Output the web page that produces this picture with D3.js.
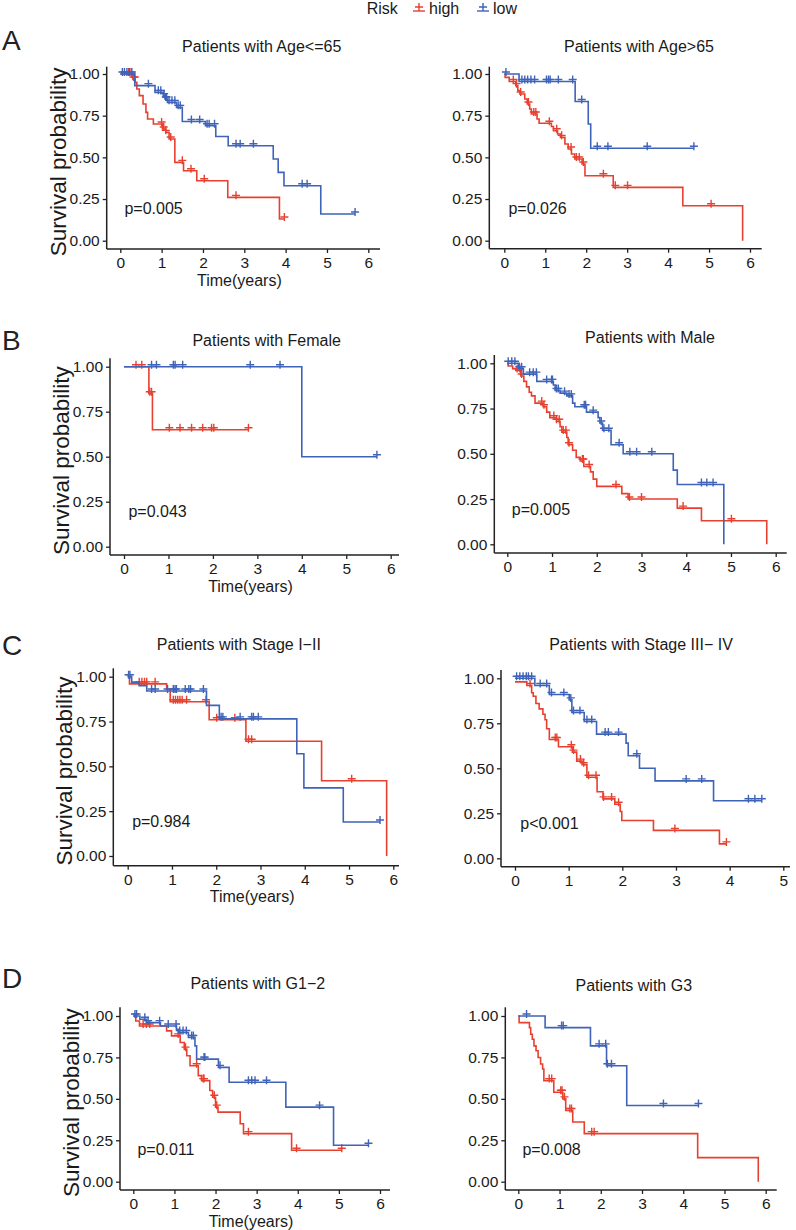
<!DOCTYPE html>
<html lang="en">
<head>
<meta charset="UTF-8">
<title>Survival by subgroup</title>
<style>
  body { margin: 0; padding: 0; background: #fff; }
  svg { display: block; font-family: "Liberation Sans", Arial, sans-serif; }
  .tick text { fill: #1a1a1a; font-size: 15.5px; }
  .tick line { stroke: #222; stroke-width: 1.3; }
</style>
</head>
<body>
<svg id="chart" width="796" height="1230"></svg>
<script src="https://cdnjs.cloudflare.com/ajax/libs/d3/7.8.5/d3.min.js"></script>
<script>
// ---- data: Kaplan-Meier steps [time, survival] and censor times ----
const groups = ['high', 'low'];
const yTicks = [0, 0.25, 0.5, 0.75, 1];
const xTicks6 = [0, 1, 2, 3, 4, 5, 6];
const xTicks5 = [0, 1, 2, 3, 4, 5];

// Age<=65
const ageLeHigh = [[0,1],[0.3,0.97],[0.36,0.95],[0.4,0.91],[0.46,0.87],[0.55,0.82],[0.62,0.77],[0.66,0.73],[0.8,0.70],[1.02,0.67],[1.1,0.65],[1.18,0.61],[1.32,0.47],[1.53,0.42],[1.85,0.36],[2.6,0.26],[3.85,0.13]];
const ageLeHighCens = [0.2,0.26,0.32,0.35,1.0,1.05,1.1,1.22,1.5,1.71,2.03,2.8,3.97];
const ageLeLow = [[0,1],[0.35,0.93],[0.84,0.89],[1.04,0.87],[1.08,0.85],[1.14,0.83],[1.36,0.80],[1.5,0.715],[2.06,0.69],[2.31,0.625],[2.61,0.57],[3.7,0.49],[3.82,0.41],[3.96,0.33],[4.85,0.16]];
const ageLeLowCens = [0.05,0.1,0.16,0.22,0.28,0.68,0.92,0.98,1.06,1.1,1.12,1.18,1.25,1.32,1.4,1.45,1.72,1.92,2.1,2.15,2.28,2.8,2.9,3.22,4.4,4.52,5.68];

// Age>65
const ageGtHigh = [[0,1],[0.02,0.98],[0.12,0.955],[0.28,0.93],[0.33,0.90],[0.38,0.88],[0.5,0.85],[0.56,0.82],[0.62,0.79],[0.66,0.76],[0.8,0.73],[0.85,0.705],[1.15,0.685],[1.2,0.66],[1.3,0.64],[1.37,0.62],[1.48,0.58],[1.56,0.55],[1.64,0.52],[1.72,0.49],[1.9,0.46],[1.97,0.39],[2.66,0.32],[4.36,0.21],[5.82,0]];
const ageGtHighCens = [0.22,0.3,0.4,0.59,0.72,0.77,1.1,1.28,1.4,1.63,1.76,1.83,1.93,2.42,2.71,3.01,5.05];
const ageGtLow = [[0,1],[0.36,0.955],[1.73,0.835],[2.05,0.70],[2.11,0.555]];
const ageGtLowCens = [0.04,0.43,0.5,0.57,0.65,0.74,1.03,1.08,1.12,1.32,1.67,1.89,2.27,2.53,3.49,4.63];

// Female
const femHigh = [[0,1],[0.56,0.85],[0.64,0.65]];
const femHighCens = [0.27,0.4,0.58,0.62,1.02,1.26,1.52,1.77,1.97,2.02,2.8];
const femLow = [[0,1],[4.0,0.5]];
const femLowCens = [0.62,0.73,1.11,1.15,1.32,2.84,3.51,5.69];

// Male
const maleHigh = [[0,1],[0.02,0.985],[0.12,0.97],[0.19,0.96],[0.3,0.93],[0.37,0.90],[0.43,0.87],[0.49,0.84],[0.54,0.82],[0.62,0.78],[0.8,0.76],[0.88,0.73],[0.95,0.70],[1.1,0.68],[1.18,0.65],[1.22,0.62],[1.33,0.59],[1.36,0.55],[1.46,0.52],[1.54,0.48],[1.63,0.46],[1.71,0.43],[1.86,0.40],[1.92,0.36],[2.0,0.32],[2.56,0.28],[2.7,0.25],[3.8,0.20],[4.34,0.13],[5.8,0]];
const maleHighCens = [0.22,0.28,0.32,0.77,0.82,1.04,1.1,1.16,1.25,1.31,1.38,1.68,1.7,1.83,2.43,2.73,3.0,3.93,5.01];
const maleLow = [[0,1],[0.25,0.97],[0.36,0.94],[0.66,0.90],[1.03,0.88],[1.07,0.85],[1.18,0.835],[1.33,0.82],[1.46,0.78],[1.51,0.76],[1.77,0.73],[2.03,0.70],[2.07,0.67],[2.13,0.63],[2.32,0.55],[2.59,0.50],[3.71,0.41],[3.8,0.33],[4.84,0]];
const maleLowCens = [0.02,0.1,0.17,0.27,0.32,0.5,0.58,0.65,0.88,0.99,1.01,1.1,1.14,1.28,1.38,1.43,1.72,1.75,1.92,2.1,2.16,2.27,2.5,2.74,2.89,3.23,4.34,4.46,4.6];

// Stage I-II
const earlyHigh = [[0,1],[0.04,0.96],[0.88,0.93],[0.96,0.86],[1.84,0.76],[2.67,0.64],[4.38,0.42],[5.85,0]];
const earlyHighCens = [0.26,0.32,0.38,0.43,0.62,1.03,1.08,1.13,1.18,1.23,1.33,1.77,2.01,2.42,2.73,2.8,5.06];
const earlyLow = [[0,1],[0.09,0.97],[0.26,0.95],[0.43,0.92],[1.78,0.84],[2.07,0.765],[3.82,0.57],[3.98,0.38],[4.87,0.19]];
const earlyLowCens = [0.02,0.05,0.54,0.62,0.9,1.03,1.07,1.1,1.3,1.38,1.42,1.71,2.11,2.15,2.54,2.8,2.84,2.95,5.7];

// Stage III-IV
const lateHigh = [[0,0.98],[0.22,0.96],[0.31,0.92],[0.34,0.90],[0.39,0.86],[0.45,0.83],[0.52,0.80],[0.56,0.77],[0.59,0.72],[0.64,0.66],[0.81,0.62],[1.07,0.59],[1.15,0.54],[1.25,0.52],[1.34,0.45],[1.53,0.37],[1.64,0.33],[1.86,0.30],[1.96,0.26],[1.99,0.21],[2.58,0.155],[3.81,0.08]];
const lateHighCens = [0.28,0.75,0.78,1.05,1.09,1.22,1.28,1.37,1.51,1.65,1.8,1.93,2.98,3.94];
const lateLow = [[0,1],[0.37,0.96],[0.64,0.91],[1.01,0.88],[1.06,0.81],[1.29,0.76],[1.52,0.69],[2.07,0.64],[2.11,0.57],[2.32,0.50],[2.61,0.43],[3.7,0.32]];
const lateLowCens = [0.03,0.09,0.15,0.21,0.25,0.31,0.47,0.59,0.68,0.91,1.04,1.09,1.21,1.34,1.43,1.68,1.74,1.93,2.27,3.19,3.48,4.35,4.47,4.6];

// G1-2
const g12High = [[0,1],[0.06,0.97],[0.15,0.94],[0.81,0.91],[0.93,0.88],[1.14,0.84],[1.24,0.80],[1.3,0.76],[1.38,0.70],[1.58,0.64],[1.66,0.61],[1.86,0.55],[1.93,0.51],[2.0,0.45],[2.06,0.42],[2.6,0.35],[2.68,0.29],[3.85,0.19]];
const g12HighCens = [0.24,0.32,0.4,1.09,1.27,1.54,1.7,1.72,1.97,2.03,2.8,3.97,5.07];
const g12Low = [[0,1],[0.16,0.98],[0.32,0.96],[0.66,0.94],[1.05,0.92],[1.1,0.90],[1.34,0.87],[1.5,0.82],[1.54,0.74],[2.07,0.69],[2.33,0.60],[3.71,0.45],[4.87,0.22]];
const g12LowCens = [0.04,0.08,0.28,0.36,0.64,0.85,1.04,1.13,1.21,1.29,1.42,1.46,1.72,1.74,2.11,2.8,2.88,2.96,3.24,4.53,5.72];

// G3
const g3High = [[0,1],[0.02,0.96],[0.27,0.93],[0.3,0.89],[0.34,0.86],[0.38,0.82],[0.43,0.79],[0.48,0.75],[0.54,0.71],[0.59,0.68],[0.62,0.61],[0.86,0.54],[1.08,0.50],[1.15,0.43],[1.32,0.36],[1.6,0.29],[4.35,0.145],[5.82,0]];
const g3HighCens = [0.75,0.81,1.03,1.06,1.12,1.25,1.29,1.78,1.84];
const g3Low = [[0,1],[0.65,0.93],[1.75,0.82],[2.14,0.70],[2.63,0.46]];
const g3LowCens = [0.2,1.05,1.09,1.96,2.12,2.16,2.26,3.52,4.37];

const titles = ['Patients with Age<=65', 'Patients with Age>65', 'Patients with Female', 'Patients with Male',
                'Patients with Stage I\u2212II', 'Patients with Stage III\u2212 IV', 'Patients with G1\u22122', 'Patients with G3'];
const pvals = ['p=0.005', 'p=0.026', 'p=0.043', 'p=0.005', 'p=0.984', 'p<0.001', 'p=0.011', 'p=0.008'];

// ---- layout ----
const colors = { high: '#E8402F', low: '#3F63B8' };
const textColor = '#1a1a1a';

// px geometry of each panel (x0/x1 map 0 and the last x tick)
const panels = [
  { title: 0, curves: [ageLeHigh, ageLeLow], cens: [ageLeHighCens, ageLeLowCens], ticks: xTicks6,
    x0: 120.3, x1: 368.3, y0: 240.7, y1: 74, axisY: 249, axisX: 106.7, xEnd: 380, yTop: 66.7, tx: 261.7, ty: 46, left: true, letter: 'A', ly: 50 },
  { title: 1, curves: [ageGtHigh, ageGtLow], cens: [ageGtHighCens, ageGtLowCens], ticks: xTicks6,
    x0: 504.3, x1: 750, y0: 240.7, y1: 74, axisY: 248.7, axisX: 489.3, xEnd: 761.7, yTop: 66.7, tx: 639, ty: 46 },
  { title: 2, curves: [femHigh, femLow], cens: [femHighCens, femLowCens], ticks: xTicks6,
    x0: 124, x1: 390.7, y0: 546.7, y1: 366.7, axisY: 555, axisX: 110, xEnd: 399, yTop: 358.3, tx: 266.7, ty: 340.7, left: true, letter: 'B', ly: 350 },
  { title: 3, curves: [maleHigh, maleLow], cens: [maleHighCens, maleLowCens], ticks: xTicks6,
    x0: 507.3, x1: 775.7, y0: 544.3, y1: 363.3, axisY: 553, axisX: 494.3, xEnd: 786.7, yTop: 355, tx: 650, ty: 337.7 },
  { title: 4, curves: [earlyHigh, earlyLow], cens: [earlyHighCens, earlyLowCens], ticks: xTicks6,
    x0: 127.7, x1: 393.3, y0: 856, y1: 676.7, axisY: 865.7, axisX: 113.3, xEnd: 399, yTop: 668.3, tx: 238.8, ty: 644, left: true, letter: 'C', ly: 655 },
  { title: 5, curves: [lateHigh, lateLow], cens: [lateHighCens, lateLowCens], ticks: xTicks5,
    x0: 515, x1: 783.3, y0: 858.3, y1: 678.3, axisY: 866.7, axisX: 501, xEnd: 790, yTop: 670, tx: 641, ty: 644.3 },
  { title: 6, curves: [g12High, g12Low], cens: [g12HighCens, g12LowCens], ticks: xTicks6,
    x0: 133.3, x1: 380, y0: 1181.7, y1: 1016, axisY: 1190, axisX: 120, xEnd: 390, yTop: 1007.3, tx: 257.8, ty: 983.3, left: true, letter: 'D', ly: 988 },
  { title: 7, curves: [g3High, g3Low], cens: [g3HighCens, g3LowCens], ticks: xTicks6,
    x0: 518.3, x1: 765.7, y0: 1181.7, y1: 1016, axisY: 1190, axisX: 505.3, xEnd: 776.7, yTop: 1007.3, tx: 633.8, ty: 985 }
];

const svg = d3.select('#chart');

// survival value at time t from a step list
function survAt(steps, t) {
  let s = steps[0][1];
  for (const [ti, si] of steps) { if (ti <= t) s = si; else break; }
  return s;
}

function plus(g, x, y, color) {
  g.append('path')
    .attr('d', `M${x - 4},${y}H${x + 4}M${x},${y - 4}V${y + 4}`)
    .attr('stroke', color).attr('stroke-width', 1.4).attr('fill', 'none');
}

panels.forEach(p => {
  const g = svg.append('g');
  const xMax = p.ticks[p.ticks.length - 1];
  const x = d3.scaleLinear().domain([0, xMax]).range([p.x0, p.x1]);
  const y = d3.scaleLinear().domain([0, 1]).range([p.y0, p.y1]);

  // axes
  g.append('g').attr('transform', `translate(${p.axisX},0)`)
    .call(d3.axisLeft(y).tickValues(yTicks).tickFormat(d3.format('.2f')).tickSize(4).tickPadding(3))
    .call(a => a.select('.domain').remove())
    .selectAll('text').attr('font-family', null);
  g.append('g').attr('transform', `translate(0,${p.axisY})`)
    .call(d3.axisBottom(x).tickValues(p.ticks).tickFormat(d3.format('d')).tickSize(4).tickPadding(4))
    .call(a => a.select('.domain').remove());
  g.selectAll('.tick text').attr('font-family', null).attr('font-size', null);

  g.append('line').attr('x1', p.axisX).attr('x2', p.axisX).attr('y1', p.yTop).attr('y2', p.axisY)
    .attr('stroke', '#222').attr('stroke-width', 1.5);
  g.append('line').attr('x1', p.axisX).attr('x2', p.xEnd).attr('y1', p.axisY).attr('y2', p.axisY)
    .attr('stroke', '#222').attr('stroke-width', 1.5);

  // curves
  const line = d3.line().x(d => x(d[0])).y(d => y(d[1])).curve(d3.curveStepAfter);
  p.curves.forEach((steps, i) => {
    const color = colors[groups[i]];
    const cens = p.cens[i];
    const end = Math.max(steps[steps.length - 1][0], cens[cens.length - 1]);
    const pts = steps.concat([[end, steps[steps.length - 1][1]]]);
    g.append('path').attr('d', line(pts)).attr('fill', 'none')
      .attr('stroke', color).attr('stroke-width', 1.6);
    cens.forEach(t => plus(g, x(t), y(survAt(steps, t)) - 2, color));
  });

  // texts
  g.append('text').attr('x', p.tx).attr('y', p.ty).attr('text-anchor', 'middle').attr('dy', '0.35em')
    .attr('font-size', 16).attr('fill', textColor).text(titles[p.title]);
  g.append('text').attr('x', x(0.1)).attr('y', y(0.195)).attr('dy', '0.35em')
    .attr('font-size', 16).attr('fill', textColor).text(pvals[p.title]);

  if (p.left) {
    const cx = (p.axisX + p.xEnd) / 2 - 4;
    g.append('text').attr('x', cx).attr('y', p.axisY + 31).attr('dy', '0.35em').attr('text-anchor', 'middle')
      .attr('font-size', 16).attr('fill', textColor).text('Time(years)');
    const cy = (p.yTop + p.axisY) / 2 + 4;
    g.append('text').attr('transform', `translate(${p.axisX - 49},${cy}) rotate(-90)`)
      .attr('text-anchor', 'middle').attr('dy', '0.35em')
      .attr('font-size', 22.5).attr('fill', textColor).text('Survival probability');
    g.append('text').attr('x', 2).attr('y', p.ly).attr('font-size', 28).attr('fill', '#222').text(p.letter);
  }
});

// legend
const lg = svg.append('g').attr('transform', 'translate(0,8)');
lg.append('text').attr('x', 366.7).attr('y', 0).attr('dy', '0.35em').attr('font-size', 16)
  .attr('fill', textColor).text('Risk');
const legendX = [413, 477];
groups.forEach((k, i) => {
  const lx = legendX[i];
  lg.append('line').attr('x1', lx).attr('x2', lx + 12).attr('y1', 3).attr('y2', 3)
    .attr('stroke', colors[k]).attr('stroke-width', 1.4);
  plus(lg, lx + 6, -1, colors[k]);
  lg.append('text').attr('x', lx + 16).attr('y', 0).attr('dy', '0.35em').attr('font-size', 16)
    .attr('fill', textColor).text(k);
});
</script>
</body>
</html>
